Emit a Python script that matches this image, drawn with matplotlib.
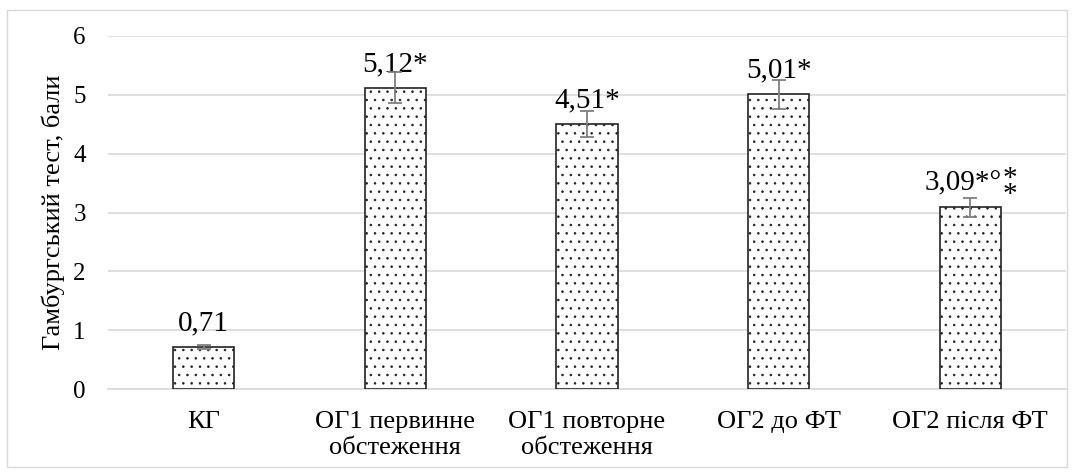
import matplotlib.pyplot as plt
from matplotlib.patches import Rectangle

categories = ["КГ", "ОГ1 первинне\nобстеження", "ОГ1 повторне\nобстеження", "ОГ2 до ФТ", "ОГ2 після ФТ"]
values = [0.71, 5.12, 4.51, 5.01, 3.09]
errors = [0.03, 0.26, 0.22, 0.25, 0.16]
labels = ["0,71", "5,12*", "4,51*", "5,01*", "3,09*°"]

plt.rcParams['font.family'] = ['Liberation Serif', 'DejaVu Serif']
plt.rcParams['hatch.linewidth'] = 0.6
plt.rcParams['hatch.color'] = '#444444'

fig = plt.figure(figsize=(10.74, 4.72), dpi=100)
ax = fig.add_axes([108/1074, 1 - 389/472, (1066-108)/1074, (389-36)/472])

x = list(range(len(values)))
bars = ax.bar(x, values, width=0.32, color='white', edgecolor='#222222',
              linewidth=1.2, hatch='..', zorder=3)
ax.errorbar(x, values, yerr=errors, fmt='none', ecolor='#7f7f7f',
            elinewidth=1.3, capsize=5, capthick=1.3, zorder=4)

for i, lab in enumerate(labels):
    if i == 4:
        # label with two stacked asterisks on the right
        ax.annotate(lab, (x[i], values[i]), xytext=(23, 12), textcoords='offset points',
                    ha='right', va='baseline', fontsize=21)
        ax.annotate("*\n*", (x[i], values[i]), xytext=(23.5, 4), textcoords='offset points',
                    ha='left', va='baseline', fontsize=21, linespacing=0.5)
    else:
        ax.annotate(lab, (x[i], values[i]), xytext=(0, 12), textcoords='offset points',
                    ha='center', va='baseline', fontsize=21)

ax.set_ylim(0, 6)
ax.set_xlim(-0.5, len(values) - 0.5)
ax.set_yticks(range(0, 7))
ax.yaxis.grid(True, color='#d9d9d9', linewidth=1.2, zorder=0)
ax.set_axisbelow(True)
for s in ax.spines.values():
    s.set_visible(False)
ax.spines['bottom'].set_visible(True)
ax.spines['bottom'].set_color('#d9d9d9')
ax.spines['bottom'].set_linewidth(1.2)
ax.tick_params(axis='y', length=0, labelsize=18, pad=16)
ax.tick_params(axis='x', length=0, labelsize=19, pad=16)
ax.set_xticks(x)
ax.set_xticklabels(categories, linespacing=1.2)
ax.set_ylabel("Гамбургський тест, бали", fontsize=19, labelpad=6)

fig.patches.append(Rectangle((7/1074, 5/472), 1060/1074, 457/472, transform=fig.transFigure,
                             fill=False, edgecolor='#d9d9d9', linewidth=1))

fig.savefig("out.png", dpi=100)
